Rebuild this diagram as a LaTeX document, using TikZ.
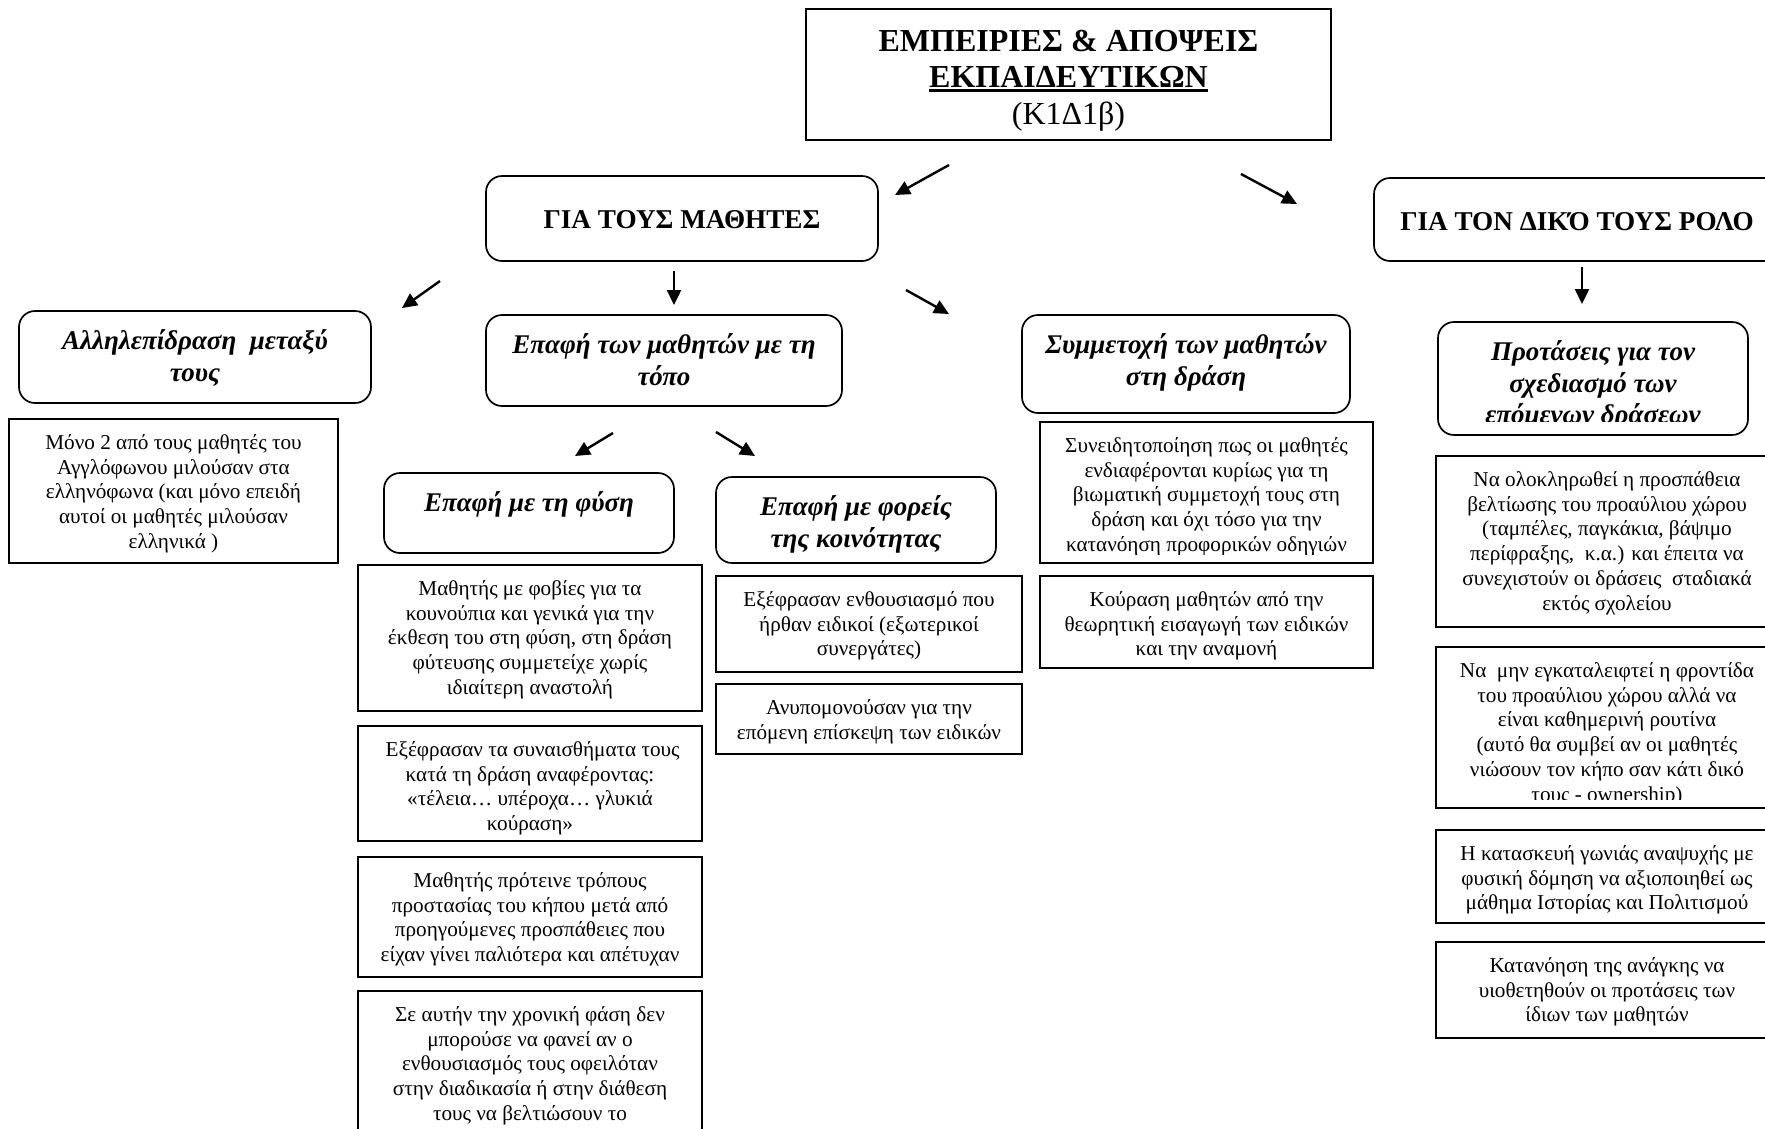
\documentclass[tikz,border=0pt]{standalone}
\usepackage{fontspec}
\setmainfont{Liberation Serif}
\usetikzlibrary{arrows.meta,fit}
% centred block of lines whose baseline is that of its first line
\newcommand\lns[1]{\parbox[t]{480pt}{\centering #1}}
% heavy underline
\newcommand\ulbar[1]{\leavevmode\setbox0\hbox{#1}\rlap{\rule[-4.5pt]{\wd0}{2.6pt}}\box0}

\begin{document}
\begin{tikzpicture}[x=1pt,y=-1pt,
  frame/.style={draw, line width=1.7pt, inner sep=0pt, outer sep=0pt},
  rframe/.style={frame, rounded corners=16pt},
  body/.style={font=\fontsize{21.2}{24.7}\selectfont, inner sep=0pt, anchor=base},
  head/.style={font=\fontsize{27}{31.5}\selectfont\bfseries\itshape, inner sep=0pt, anchor=base},
  caps/.style={font=\fontsize{27.2}{31}\selectfont\bfseries, inner sep=0pt, anchor=base},
  arr/.style={line width=2.4pt, -{Triangle[length=15pt,width=14pt]}}]

\useasboundingbox (0,0) rectangle (1765,1128);
\clip (0,0) rectangle (1765,1128);
\fill[white] (0,0) rectangle (1765,1128);

% ---- title
\node[frame, fit={(806,9)(1331,140)}] (title) {};
\node[font=\fontsize{32}{36.5}\selectfont, inner sep=0pt, anchor=base] (title-t)
  at ([yshift=-42pt]title.north)
  {\lns{\bfseries ΕΜΠΕΙΡΙΕΣ \& ΑΠΟΨΕΙΣ\\ \ulbar{ΕΚΠΑΙΔΕΥΤΙΚΩΝ}\\ \mdseries (Κ1Δ1β)}};

% ---- two main branches
\node[rframe, fit={(486,176)(878,261)}] (pupils) {};
\node[caps] (pupils-t) at ([yshift=-52pt]pupils.north) {ΓΙΑ ΤΟΥΣ ΜΑΘΗΤΕΣ};

\node[rframe, fit={(1374,178)(1780,261)}] (role) {};
\node[caps] (role-t) at ([yshift=-52pt]role.north) {ΓΙΑ ΤΟΝ ΔΙΚΌ ΤΟΥΣ ΡΟΛΟ};

% ---- pupils: interaction
\node[rframe, fit={(19,311)(371,403)}] (inter) {};
\node[head] (inter-t) at ([yshift=-38.5pt]inter.north) {\lns{Αλληλεπίδραση\ \ μεταξύ\\ τους}};
\node[frame, fit={(9,419)(338,563)}] (inter1) {};
\node[body] (inter1-t) at ([yshift=-30.5pt]inter1.north)
  {\lns{Μόνο 2 από τους μαθητές του\\ Αγγλόφωνου μιλούσαν στα\\ ελληνόφωνα (και μόνο επειδή\\ αυτοί οι μαθητές μιλούσαν\\ ελληνικά )}};

% ---- pupils: contact with the place
\node[rframe, fit={(486,315)(842,406)}] (place) {};
\node[head] (place-t) at ([yshift=-38.5pt]place.north) {\lns{Επαφή των μαθητών με τη\\ τόπο}};

\node[rframe, fit={(384,473)(674,553)}] (nature) {};
\node[head] (nature-t) at ([yshift=-38.5pt]nature.north) {Επαφή με τη φύση};

\node[frame, fit={(358,565)(702,711)}] (nat1) {};
\node[body] (nat1-t) at ([yshift=-30.5pt]nat1.north)
  {\lns{Μαθητής με φοβίες για τα\\ κουνούπια και γενικά για την\\ έκθεση του στη φύση, στη δράση\\ φύτευσης συμμετείχε χωρίς\\ ιδιαίτερη αναστολή}};
\node[frame, fit={(358,726)(702,841)}] (nat2) {};
\node[body] (nat2-t) at ([yshift=-30.5pt]nat2.north)
  {\lns{\ Εξέφρασαν τα συναισθήματα τους\\ κατά τη δράση αναφέροντας:\\ «τέλεια… υπέροχα… γλυκιά\\ κούραση»}};
\node[frame, fit={(358,857)(702,977)}] (nat3) {};
\node[body] (nat3-t) at ([yshift=-30.5pt]nat3.north)
  {\lns{Μαθητής πρότεινε τρόπους\\ προστασίας του κήπου μετά από\\ προηγούμενες προσπάθειες που\\ είχαν γίνει παλιότερα και απέτυχαν}};
\node[frame, fit={(358,991)(702,1140)}] (nat4) {};
\node[body] (nat4-t) at ([yshift=-30.5pt]nat4.north)
  {\lns{Σε αυτήν την χρονική φάση δεν\\ μπορούσε να φανεί αν ο\\ ενθουσιασμός τους οφειλόταν\\ στην διαδικασία ή στην διάθεση\\ τους να βελτιώσουν το}};

\node[rframe, fit={(716,477)(996,563)}] (comm) {};
\node[head] (comm-t) at ([yshift=-38.5pt]comm.north) {\lns{Επαφή με φορείς\\ της κοινότητας}};
\node[frame, fit={(716,576)(1022,672)}] (comm1) {};
\node[body] (comm1-t) at ([yshift=-30.5pt]comm1.north)
  {\lns{Εξέφρασαν ενθουσιασμό που\\ ήρθαν ειδικοί (εξωτερικοί\\ συνεργάτες)}};
\node[frame, fit={(716,684)(1022,754)}] (comm2) {};
\node[body] (comm2-t) at ([yshift=-30.5pt]comm2.north)
  {\lns{Ανυπομονούσαν για την\\ επόμενη επίσκεψη των ειδικών}};

% ---- pupils: participation
\node[rframe, fit={(1022,315)(1350,413)}] (part) {};
\node[head] (part-t) at ([yshift=-38.5pt]part.north) {\lns{Συμμετοχή των μαθητών\\ στη δράση}};
\node[frame, fit={(1040,422)(1373,563)}] (part1) {};
\begin{scope}
  \clip (1040,422) rectangle (1373,554);
  \node[body] (part1-t) at ([yshift=-30.5pt]part1.north)
    {\lns{Συνειδητοποίηση πως οι μαθητές\\ ενδιαφέρονται κυρίως για τη\\ βιωματική συμμετοχή τους στη\\ δράση και όχι τόσο για την\\ κατανόηση προφορικών οδηγιών}};
\end{scope}
\node[frame, fit={(1040,576)(1373,668)}] (part2) {};
\node[body] (part2-t) at ([yshift=-30.5pt]part2.north)
  {\lns{Κούραση μαθητών από την\\ θεωρητική εισαγωγή των ειδικών\\ και την αναμονή}};

% ---- own role: proposals
\node[rframe, fit={(1438,322)(1748,435)}] (prop) {};
\begin{scope}
  \clip (1438,322) rectangle (1748,421);
  \node[head] (prop-t) at ([yshift=-38.5pt]prop.north) {\lns{Προτάσεις για τον\\ σχεδιασμό των\\ επόμενων δράσεων}};
\end{scope}
\node[frame, fit={(1436,456)(1778,627)}] (prop1) {};
\node[body] (prop1-t) at ([yshift=-30.5pt]prop1.north)
  {\lns{Να ολοκληρωθεί η προσπάθεια\\ βελτίωσης του προαύλιου χώρου\\ (ταμπέλες, παγκάκια, βάψιμο\\ περίφραξης,\ \ κ.α.) και έπειτα να\\ συνεχιστούν οι δράσεις\ \ σταδιακά\\ εκτός σχολείου}};
\node[frame, fit={(1436,647)(1778,808)}] (prop2) {};
\begin{scope}
  \clip (1436,647) rectangle (1778,799);
  \node[body] (prop2-t) at ([yshift=-30.5pt]prop2.north)
    {\lns{Να\ \ μην εγκαταλειφτεί η φροντίδα\\ του προαύλιου χώρου αλλά να\\ είναι καθημερινή ρουτίνα\\ (αυτό θα συμβεί αν οι μαθητές\\ νιώσουν τον κήπο σαν κάτι δικό\\ τους - ownership)}};
\end{scope}
\node[frame, fit={(1436,830)(1778,923)}] (prop3) {};
\node[body] (prop3-t) at ([yshift=-30.5pt]prop3.north)
  {\lns{Η κατασκευή γωνιάς αναψυχής με\\ φυσική δόμηση να αξιοποιηθεί ως\\ μάθημα Ιστορίας και Πολιτισμού}};
\node[frame, fit={(1436,942)(1778,1038)}] (prop4) {};
\node[body] (prop4-t) at ([yshift=-30.5pt]prop4.north)
  {\lns{Κατανόηση της ανάγκης να\\ υιοθετηθούν οι προτάσεις των\\ ίδιων των μαθητών}};

% ---- free-standing arrows
\coordinate (a1s) at (949,165);  \coordinate (a1e) at (895,195);
\coordinate (a2s) at (1241,174); \coordinate (a2e) at (1297,204);
\coordinate (a3s) at (1582,267); \coordinate (a3e) at (1582,304);
\coordinate (a4s) at (440,281);  \coordinate (a4e) at (402,308);
\coordinate (a5s) at (674,271);  \coordinate (a5e) at (674,305);
\coordinate (a6s) at (906,290);  \coordinate (a6e) at (949,314);
\coordinate (a7s) at (613,433);  \coordinate (a7e) at (575,456);
\coordinate (a8s) at (716,432);  \coordinate (a8e) at (755,456);
\foreach \i in {1,...,8} \draw[arr] (a\i s) -- (a\i e);
\end{tikzpicture}
\end{document}
